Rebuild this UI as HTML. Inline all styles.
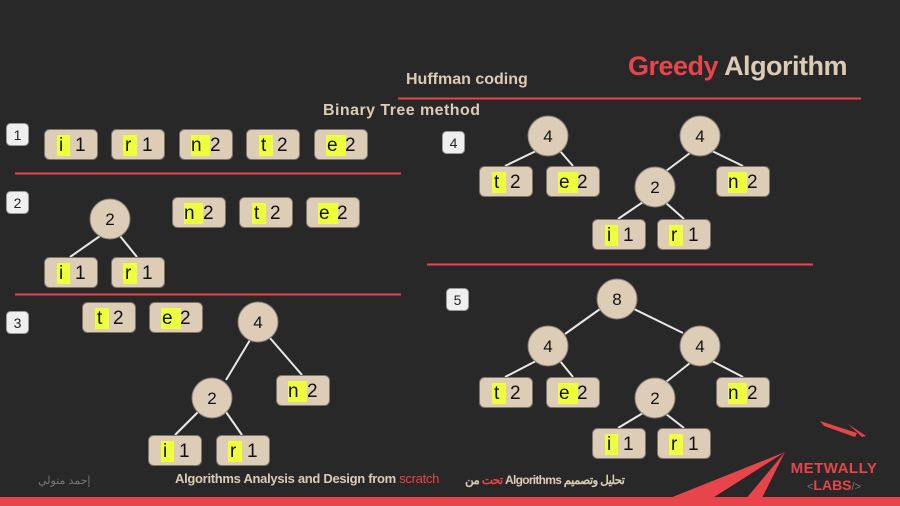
<!DOCTYPE html>
<html><head><meta charset="utf-8"><style>
html,body{margin:0;padding:0;background:#282828;}
svg{display:block}
text{font-family:"Liberation Sans",sans-serif;}
</style></head><body>
<svg width="900" height="506" viewBox="0 0 900 506" xmlns="http://www.w3.org/2000/svg">
<defs>
<g id="bx"><rect x="0.5" y="0.5" width="53" height="30" rx="5" fill="#ddccb6" stroke="#7d756c"/></g>
<g id="lb"><rect x="0.5" y="0.5" width="22" height="22" rx="4" fill="#efefef" stroke="#999"/></g>
</defs>
<rect width="900" height="506" fill="#282828"/>
<!-- titles -->
<text x="628" y="75" font-size="27" font-weight="bold" fill="#e8444b" letter-spacing="-0.5">Greedy <tspan fill="#dccbb5">Algorithm</tspan></text>
<text x="406" y="84" font-size="16" font-weight="bold" fill="#dccbb5">Huffman coding</text>
<line x1="398" y1="98.5" x2="861" y2="98.5" stroke="#e8444b" stroke-width="2"/>
<text x="323" y="115" font-size="16" font-weight="bold" fill="#dccbb5" textLength="157">Binary Tree  method</text>
<!-- separators -->
<line x1="15" y1="173.5" x2="401" y2="173.5" stroke="#e8444b" stroke-width="2"/>
<line x1="15" y1="294.5" x2="401" y2="294.5" stroke="#e8444b" stroke-width="2"/>
<line x1="427" y1="264.5" x2="813" y2="264.5" stroke="#e8444b" stroke-width="2"/>
<!-- step labels -->
<g font-size="14" fill="#222" text-anchor="middle">
<g transform="translate(6,123)"><use href="#lb"/><text x="11.5" y="17">1</text></g>
<g transform="translate(6,191)"><use href="#lb"/><text x="11.5" y="17">2</text></g>
<g transform="translate(6,311)"><use href="#lb"/><text x="11.5" y="17">3</text></g>
<g transform="translate(442,131)"><use href="#lb"/><text x="11.5" y="17">4</text></g>
<g transform="translate(446,288)"><use href="#lb"/><text x="11.5" y="17">5</text></g>
</g>
<!-- edges -->
<g stroke="#e8e8e8" stroke-width="2">
<line x1="100" y1="236" x2="70" y2="257"/><line x1="120" y1="236" x2="137" y2="257"/>
<line x1="250" y1="340" x2="226" y2="380"/><line x1="270" y1="338" x2="302" y2="375"/>
<line x1="198" y1="412" x2="175" y2="435"/><line x1="226" y1="412" x2="242" y2="435"/>
<line x1="536" y1="151" x2="505" y2="166"/><line x1="560" y1="151" x2="573" y2="166"/>
<line x1="690" y1="153" x2="666" y2="171"/><line x1="712" y1="151" x2="743" y2="166"/>
<line x1="643" y1="202" x2="618" y2="219"/><line x1="666" y1="203" x2="684" y2="219"/>
<line x1="600" y1="309" x2="565" y2="334"/><line x1="634" y1="309" x2="683" y2="333"/>
<line x1="536" y1="361" x2="505" y2="377"/><line x1="560" y1="361" x2="573" y2="377"/>
<line x1="690" y1="363" x2="666" y2="382"/><line x1="712" y1="361" x2="743" y2="377"/>
<line x1="643" y1="413" x2="618" y2="428"/><line x1="666" y1="414" x2="684" y2="428"/>
</g>
<!-- circles -->
<g fill="#ddccb6" stroke="#8a8178" stroke-width="1">
<circle cx="110" cy="219" r="20"/><circle cx="258" cy="322" r="20"/><circle cx="212" cy="398" r="20"/>
<circle cx="548" cy="136" r="20"/><circle cx="700" cy="136" r="20"/><circle cx="655" cy="187" r="20"/>
<circle cx="617" cy="299" r="20"/><circle cx="548" cy="346" r="20"/><circle cx="700" cy="346" r="20"/><circle cx="655" cy="398" r="20"/>
</g>
<g font-size="17" fill="#111" text-anchor="middle">
<text x="110" y="225">2</text><text x="258" y="328">4</text><text x="212" y="404">2</text>
<text x="548" y="142">4</text><text x="700" y="142">4</text><text x="655" y="193">2</text>
<text x="617" y="305">8</text><text x="548" y="352">4</text><text x="700" y="352">4</text><text x="655" y="404">2</text>
</g>
<!-- boxes -->
<g font-size="19" fill="#111">
<g transform="translate(44,129)"><use href="#bx"/><rect x="13" y="6" width="13" height="21" fill="#eeff3e"/><text x="15" y="22">i</text><text x="31" y="22">1</text></g>
<g transform="translate(111,129)"><use href="#bx"/><rect x="12" y="6" width="14" height="21" fill="#eeff3e"/><text x="14" y="22">r</text><text x="31" y="22">1</text></g>
<g transform="translate(179,129)"><use href="#bx"/><rect x="12" y="6" width="19" height="21" fill="#eeff3e"/><text x="12" y="22">n</text><text x="31" y="22">2</text></g>
<g transform="translate(246,129)"><use href="#bx"/><rect x="13" y="6" width="14" height="21" fill="#eeff3e"/><text x="15" y="22">t</text><text x="31" y="22">2</text></g>
<g transform="translate(314,129)"><use href="#bx"/><rect x="12" y="6" width="20" height="21" fill="#eeff3e"/><text x="13" y="22">e</text><text x="31" y="22">2</text></g>
<g transform="translate(44,257)"><use href="#bx"/><rect x="13" y="6" width="13" height="21" fill="#eeff3e"/><text x="15" y="22">i</text><text x="31" y="22">1</text></g>
<g transform="translate(111,257)"><use href="#bx"/><rect x="12" y="6" width="14" height="21" fill="#eeff3e"/><text x="14" y="22">r</text><text x="31" y="22">1</text></g>
<g transform="translate(172,197)"><use href="#bx"/><rect x="12" y="6" width="19" height="21" fill="#eeff3e"/><text x="12" y="22">n</text><text x="31" y="22">2</text></g>
<g transform="translate(239,197)"><use href="#bx"/><rect x="13" y="6" width="14" height="21" fill="#eeff3e"/><text x="15" y="22">t</text><text x="31" y="22">2</text></g>
<g transform="translate(306,197)"><use href="#bx"/><rect x="12" y="6" width="20" height="21" fill="#eeff3e"/><text x="13" y="22">e</text><text x="31" y="22">2</text></g>
<g transform="translate(82,302)"><use href="#bx"/><rect x="13" y="6" width="14" height="21" fill="#eeff3e"/><text x="15" y="22">t</text><text x="31" y="22">2</text></g>
<g transform="translate(149,302)"><use href="#bx"/><rect x="12" y="6" width="20" height="21" fill="#eeff3e"/><text x="13" y="22">e</text><text x="31" y="22">2</text></g>
<g transform="translate(276,375)"><use href="#bx"/><rect x="12" y="6" width="19" height="21" fill="#eeff3e"/><text x="12" y="22">n</text><text x="31" y="22">2</text></g>
<g transform="translate(148,435)"><use href="#bx"/><rect x="13" y="6" width="13" height="21" fill="#eeff3e"/><text x="15" y="22">i</text><text x="31" y="22">1</text></g>
<g transform="translate(216,435)"><use href="#bx"/><rect x="12" y="6" width="14" height="21" fill="#eeff3e"/><text x="14" y="22">r</text><text x="31" y="22">1</text></g>
<g transform="translate(479,166)"><use href="#bx"/><rect x="13" y="6" width="14" height="21" fill="#eeff3e"/><text x="15" y="22">t</text><text x="31" y="22">2</text></g>
<g transform="translate(546,166)"><use href="#bx"/><rect x="12" y="6" width="20" height="21" fill="#eeff3e"/><text x="13" y="22">e</text><text x="31" y="22">2</text></g>
<g transform="translate(716,166)"><use href="#bx"/><rect x="12" y="6" width="19" height="21" fill="#eeff3e"/><text x="12" y="22">n</text><text x="31" y="22">2</text></g>
<g transform="translate(592,219)"><use href="#bx"/><rect x="13" y="6" width="13" height="21" fill="#eeff3e"/><text x="15" y="22">i</text><text x="31" y="22">1</text></g>
<g transform="translate(657,219)"><use href="#bx"/><rect x="12" y="6" width="14" height="21" fill="#eeff3e"/><text x="14" y="22">r</text><text x="31" y="22">1</text></g>
<g transform="translate(479,377)"><use href="#bx"/><rect x="13" y="6" width="14" height="21" fill="#eeff3e"/><text x="15" y="22">t</text><text x="31" y="22">2</text></g>
<g transform="translate(546,377)"><use href="#bx"/><rect x="12" y="6" width="20" height="21" fill="#eeff3e"/><text x="13" y="22">e</text><text x="31" y="22">2</text></g>
<g transform="translate(716,377)"><use href="#bx"/><rect x="12" y="6" width="19" height="21" fill="#eeff3e"/><text x="12" y="22">n</text><text x="31" y="22">2</text></g>
<g transform="translate(592,428)"><use href="#bx"/><rect x="13" y="6" width="13" height="21" fill="#eeff3e"/><text x="15" y="22">i</text><text x="31" y="22">1</text></g>
<g transform="translate(657,428)"><use href="#bx"/><rect x="12" y="6" width="14" height="21" fill="#eeff3e"/><text x="14" y="22">r</text><text x="31" y="22">1</text></g>
</g>
<!-- footer -->
<text x="38" y="484" font-size="11" fill="#777" font-family="'Liberation Sans','Noto Sans CJK SC',sans-serif">إحمد متولي</text>
<text x="175" y="483" font-size="13" font-weight="bold" fill="#dccbb5" letter-spacing="-0.3">Algorithms Analysis and Design from <tspan fill="#e8444b" font-weight="normal">scratch</tspan></text>
<text x="465" y="484" font-size="12" font-weight="bold" fill="#dccbb5" textLength="160" font-family="'Liberation Sans','Noto Sans CJK SC',sans-serif"><tspan fill="#e8444b">تحت</tspan> من Algorithms تحليل وتصميم</text>
<!-- logo shapes -->
<polygon points="650,506 785,452 700,506" fill="#e8444b"/>
<polygon points="740,506 785,452 758,506" fill="#e8444b"/>
<polygon points="820,421 857,433 855,437 824,426" fill="#e8444b"/>
<polygon points="848,424 866,436 862,437" fill="#e8444b"/>
<text x="834" y="473" font-size="15" font-weight="bold" fill="#e8444b" text-anchor="middle" letter-spacing="0.5">METWALLY</text>
<text x="834" y="490" font-size="14" font-weight="bold" fill="#e8444b" text-anchor="middle"><tspan fill="#777" font-size="11" font-weight="normal">&lt;</tspan>LABS<tspan fill="#777" font-size="11" font-weight="normal">/&gt;</tspan></text>
<rect x="0" y="497" width="900" height="9" fill="#e8444b"/>
</svg>
</body></html>
